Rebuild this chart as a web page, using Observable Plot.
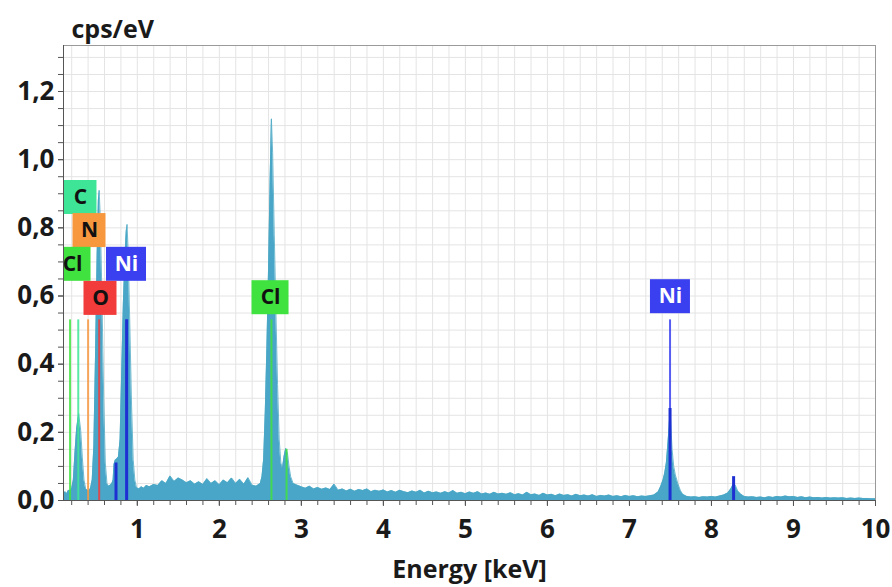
<!DOCTYPE html>
<html>
<head>
<meta charset="utf-8">
<script src="https://cdn.jsdelivr.net/npm/d3@7"></script>
<script src="https://cdn.jsdelivr.net/npm/@observablehq/plot@0.6"></script>
<style>
  html, body { margin: 0; padding: 0; background: #fff; }
</style>
</head>
<body>
<div id="chart"></div>
<script>
// ---- Spectrum (energy in keV, intensity in cps/eV) ----
const energy = [
  0.10, 0.12, 0.14, 0.16, 0.18, 0.20, 0.22, 0.24, 0.26, 0.285, 0.31, 0.33, 0.35, 0.37, 0.39,
  0.41, 0.43, 0.45, 0.47, 0.49, 0.51, 0.525, 0.535, 0.55, 0.57, 0.59, 0.61, 0.63, 0.65, 0.67,
  0.69, 0.705, 0.715, 0.73, 0.75, 0.77, 0.79, 0.81, 0.83, 0.85, 0.865, 0.875, 0.89, 0.91, 0.93,
  0.95, 0.97, 0.99, 1.02, 1.05, 1.08, 1.11, 1.15, 1.20, 1.25, 1.30, 1.35, 1.40, 1.45, 1.50,
  1.55, 1.60, 1.65, 1.70, 1.75, 1.80, 1.85, 1.90, 1.95, 2.00, 2.05, 2.10, 2.15, 2.20, 2.25,
  2.30, 2.35, 2.40, 2.45, 2.50, 2.52, 2.54, 2.56, 2.58, 2.60, 2.62, 2.635, 2.65, 2.67, 2.69,
  2.71, 2.73, 2.75, 2.77, 2.79, 2.81, 2.83, 2.85, 2.87, 2.90, 2.95, 3.00, 3.05, 3.10, 3.15,
  3.20, 3.25, 3.30, 3.35, 3.40, 3.45, 3.50, 3.55, 3.60, 3.65, 3.70, 3.75, 3.80, 3.85, 3.90,
  3.95, 4.00, 4.05, 4.10, 4.15, 4.20, 4.25, 4.30, 4.35, 4.40, 4.45, 4.50, 4.55, 4.60, 4.65,
  4.70, 4.75, 4.80, 4.85, 4.90, 4.95, 5.00, 5.05, 5.10, 5.15, 5.20, 5.25, 5.30, 5.35, 5.40,
  5.45, 5.50, 5.55, 5.60, 5.65, 5.70, 5.75, 5.80, 5.85, 5.90, 5.95, 6.00, 6.05, 6.10, 6.15,
  6.20, 6.25, 6.30, 6.35, 6.40, 6.45, 6.50, 6.55, 6.60, 6.65, 6.70, 6.75, 6.80, 6.85, 6.90,
  6.95, 7.00, 7.05, 7.10, 7.15, 7.20, 7.25, 7.30, 7.35, 7.38, 7.41, 7.43, 7.45, 7.47, 7.485,
  7.495, 7.505, 7.52, 7.54, 7.56, 7.59, 7.62, 7.65, 7.70, 7.75, 7.80, 7.85, 7.90, 7.95, 8.00,
  8.05, 8.10, 8.15, 8.20, 8.24, 8.27, 8.29, 8.32, 8.36, 8.40, 8.45, 8.50, 8.55, 8.60, 8.65,
  8.70, 8.75, 8.80, 8.85, 8.90, 8.95, 9.00, 9.05, 9.10, 9.15, 9.20, 9.25, 9.30, 9.35, 9.40,
  9.45, 9.50, 9.55, 9.60, 9.65, 9.70, 9.75, 9.80, 9.85, 9.90, 9.95, 10.00
];
const counts = [
  0.018, 0.026, 0.020, 0.030, 0.028, 0.035, 0.060, 0.140, 0.210, 0.255, 0.205, 0.125, 0.060, 0.035, 0.030,
  0.028, 0.036, 0.060, 0.160, 0.420, 0.720, 0.880, 0.910, 0.820, 0.580, 0.300, 0.110, 0.050, 0.042, 0.045,
  0.050, 0.060, 0.105, 0.118, 0.122, 0.128, 0.180, 0.380, 0.580, 0.720, 0.790, 0.810, 0.720, 0.500, 0.280,
  0.120, 0.060, 0.038, 0.034, 0.040, 0.036, 0.044, 0.040, 0.047, 0.044, 0.058, 0.050, 0.072, 0.056, 0.066,
  0.060, 0.052, 0.058, 0.048, 0.055, 0.047, 0.064, 0.050, 0.058, 0.046, 0.060, 0.052, 0.066, 0.050, 0.062,
  0.048, 0.067, 0.045, 0.042, 0.050, 0.070, 0.120, 0.260, 0.450, 0.680, 0.950, 1.120, 1.020, 0.780, 0.550,
  0.340, 0.180, 0.110, 0.095, 0.130, 0.153, 0.140, 0.100, 0.070, 0.050, 0.045, 0.040, 0.036, 0.042, 0.034,
  0.038, 0.033, 0.037, 0.032, 0.048, 0.030, 0.034, 0.028, 0.033, 0.027, 0.032, 0.029, 0.034, 0.026, 0.030,
  0.027, 0.031, 0.025, 0.029, 0.024, 0.030, 0.026, 0.023, 0.028, 0.024, 0.030, 0.022, 0.027, 0.023, 0.025,
  0.021, 0.026, 0.022, 0.029, 0.021, 0.024, 0.020, 0.025, 0.021, 0.026, 0.019, 0.022, 0.018, 0.024, 0.019,
  0.021, 0.018, 0.023, 0.017, 0.020, 0.016, 0.024, 0.017, 0.019, 0.015, 0.021, 0.016, 0.018, 0.014, 0.019,
  0.015, 0.017, 0.013, 0.018, 0.014, 0.016, 0.013, 0.017, 0.012, 0.015, 0.013, 0.016, 0.012, 0.014, 0.011,
  0.015, 0.012, 0.014, 0.011, 0.013, 0.012, 0.014, 0.016, 0.025, 0.040, 0.060, 0.080, 0.110, 0.170, 0.220,
  0.270, 0.220, 0.150, 0.100, 0.075, 0.050, 0.030, 0.018, 0.012, 0.010, 0.011, 0.009, 0.011, 0.010, 0.012,
  0.010, 0.013, 0.016, 0.022, 0.035, 0.050, 0.045, 0.028, 0.018, 0.012, 0.010, 0.011, 0.009, 0.010, 0.008,
  0.011, 0.009, 0.012, 0.010, 0.013, 0.011, 0.012, 0.009, 0.011, 0.008, 0.010, 0.008, 0.009, 0.007, 0.009,
  0.007, 0.008, 0.007, 0.008, 0.006, 0.007, 0.006, 0.007, 0.006, 0.006, 0.005, 0.005
];

// ---- Element marker lines ----
const lineElement = ["Cl", "C", "N", "O", "Ni", "Cl", "Cl", "Ni"];
const lineEnergy  = [0.18, 0.28, 0.40, 0.535, 0.87, 2.635, 2.82, 7.495];
const lineHeight  = [0.53, 0.53, 0.53, 0.53, 0.53, 0.53, 0.15, 0.53];

// ---- Ni fitted peak cores (dark blue) ----
const niEnergy = [0.74, 0.87, 7.495, 8.27];
const niHeight = [0.11, 0.53, 0.27, 0.07];

// ---- Element labels ----
const labelText   = ["C", "N", "Cl", "Ni", "O", "Cl", "Ni"];
const labelEnergy = [0.307, 0.417, 0.21, 0.868, 0.551, 2.624, 7.50];
const labelLevel  = [0.889, 0.792, 0.693, 0.693, 0.593, 0.595, 0.598];

// ---- Ticks ----
const xTickLabels = [1, 2, 3, 4, 5, 6, 7, 8, 9, 10];
const yTickLabels = [0, 0.2, 0.4, 0.6, 0.8, 1.0, 1.2];

const elementColor = {C: "#3fe596", N: "#f7983f", Cl: "#3fe23f", O: "#f23b3b", Ni: "#3a3ff0"};

const W = 892, H = 587, mL = 63, mR = 17, mT = 45, mB = 87;
const xDom = [0.1, 10], yDom = [0, 1.335];
const pxPerX = (W - mL - mR) / (xDom[1] - xDom[0]);
const pxPerY = (H - mT - mB) / (yDom[1] - yDom[0]);

const spectrum = energy.map((e, i) => ({e, c: counts[i]}));
const lines = lineEnergy.map((e, i) => ({e, h: lineHeight[i], el: lineElement[i]}));
const niCores = niEnergy.map((e, i) => ({e, h: niHeight[i]}));
const labels = labelText.map((t, i) => {
  const w = t.length === 1 ? 33 : (t === "Ni" ? 40 : 37);
  return {
    t, e: labelEnergy[i], y: labelLevel[i],
    x1: labelEnergy[i] - w / 2 / pxPerX, x2: labelEnergy[i] + w / 2 / pxPerX,
    y1: labelLevel[i] - 17 / pxPerY, y2: labelLevel[i] + 17 / pxPerY
  };
});

const xMinor = d3.range(0.2, 10.001, 0.2).map(v => +v.toFixed(2));
const yMinor = d3.range(0, 1.3351, 0.05).map(v => +v.toFixed(2));
const fmt = d => d.toFixed(1).replace(".", ",");

const chart = Plot.plot({
  width: W, height: H,
  marginLeft: mL, marginRight: mR, marginTop: mT, marginBottom: mB,
  x: {domain: xDom},
  y: {domain: yDom},
  style: {fontFamily: "'Open Sans', sans-serif", fontWeight: "bold", fontSize: "26px", color: "#1a1a1a", background: "#fff"},
  marks: [
    Plot.gridX(xMinor, {stroke: "#e4e4e4", strokeOpacity: 1}),
    Plot.gridY(yMinor, {stroke: "#e4e4e4", strokeOpacity: 1}),
    Plot.areaY(spectrum, {x: "e", y: "c", fill: "#49a6c8", curve: "linear"}),
    Plot.lineY(spectrum, {x: "e", y: "c", stroke: "#4aa8c4", strokeWidth: 0.8, curve: "linear"}),
    Plot.ruleX(lines, {x: "e", y1: 0, y2: "h", stroke: d => elementColor[d.el], strokeWidth: 2, strokeOpacity: 0.85}),
    Plot.ruleX(niCores, {x: "e", y1: 0, y2: "h", stroke: "#1e30d2", strokeWidth: 3}),
    Plot.rect(labels, {x1: "x1", x2: "x2", y1: "y1", y2: "y2", fill: d => elementColor[d.t], clip: true}),
    Plot.text(labels, {x: "e", y: "y", text: "t", fill: d => d.t === "Ni" ? "#fff" : "#111", fontSize: 21, fontWeight: "bold"}),
    Plot.frame({stroke: "#9a9a9a"}),
    Plot.ruleY([0], {stroke: "#555"}),
    Plot.ruleX([xDom[0]], {stroke: "#555"}),
    Plot.axisX(xMinor, {tickSize: 5, tickFormat: () => "", stroke: "#555", label: null}),
    Plot.axisX(xTickLabels, {tickSize: 6, tickPadding: 13, stroke: "#555", label: null, tickFormat: d => String(d), fill: "#1a1a1a"}),
    Plot.axisY(yMinor, {tickSize: 5, tickFormat: () => "", stroke: "#555", label: null}),
    Plot.axisY(yTickLabels, {tickSize: 5, tickPadding: 4, stroke: "#555", label: null, tickFormat: fmt, fill: "#1a1a1a"}),
    Plot.text(["cps/eV"], {frameAnchor: "top-left", dx: 8, dy: -8, textAnchor: "start", lineAnchor: "bottom", fontSize: 25, fontWeight: "bold", fill: "#1a1a1a"}),
    Plot.text(["Energy [keV]"], {frameAnchor: "bottom", dy: 77, lineAnchor: "bottom", fontSize: 25, fontWeight: "bold", fill: "#1a1a1a"})
  ]
});
document.getElementById("chart").appendChild(chart);
</script>
</body>
</html>
